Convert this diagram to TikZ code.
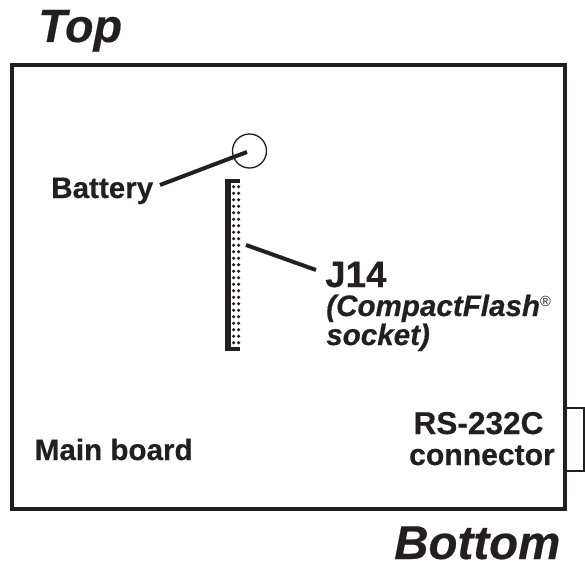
\documentclass[tikz,border=0pt]{standalone}
\usepackage{fontspec}
\setmainfont{Liberation Sans}[BoldFeatures={FakeBold=0.4},BoldItalicFeatures={FakeBold=0.4}]
\usetikzlibrary{arrows.meta,positioning,calc}
\definecolor{inkblack}{RGB}{35,31,32}
\tikzset{
  lbl/.style={inner sep=0pt,anchor=base west,text=inkblack,font=\fontsize{22.2}{24}\selectfont\bfseries},
  sublbl/.style={lbl,font=\fontsize{22.2}{24}\selectfont\bfseries\itshape},
  caption/.style={inner sep=0pt,anchor=base west,text=inkblack,font=\fontsize{35}{38}\selectfont\bfseries\itshape},
  leader/.style={line width=3pt,inkblack}
}
\begin{document}
\begin{tikzpicture}[x=0.75pt,y=-0.75pt]
  \useasboundingbox (0,0) rectangle (585,563);
  \node[caption] (top) at (38,42) {Top};
  \node[caption,font=\fontsize{35.6}{38}\selectfont\bfseries\itshape] (bottom) at (394,559) {Bottom};
  % connector sits behind the board outline
  \node[draw=inkblack,line width=1.2pt,inner sep=0pt,outer sep=0pt,
        minimum width=15pt,minimum height=47pt] (conn) at (574,439.5) {};
  \node[draw=inkblack,fill=white,line width=3pt,inner sep=0pt,outer sep=0pt,
        minimum width=415pt,minimum height=333.4pt] (board) at (288.5,287.2) {};
  \node[circle,draw=inkblack,line width=1pt,inner sep=0pt,outer sep=0pt,minimum size=25.5pt] (batt) at (249.5,151) {};
  \node[lbl] (battlbl) at (51,198) {Battery};
  \node[lbl] (mainlbl) at (34.5,460) {Main board};
  \node[lbl,anchor=base,font=\fontsize{23.7}{26}\selectfont\bfseries] (rslbl) at (478.5,434) {RS-232C};
  \node[lbl,anchor=base,font=\fontsize{22.6}{26}\selectfont\bfseries] (connlbl) at (482,465) {connector};
  \node[lbl,font=\fontsize{27.5}{30}\selectfont\bfseries] (jlbl) at (325,287) {J14};
  \node[sublbl] (cflbl) at (326,316) {(CompactFlash\raisebox{7pt}{\fontsize{11}{11}\selectfont\normalfont ®}};
  \node[sublbl] (sockl) at (326,345) {socket)};
  % socket bracket and pins
  \fill[inkblack] (225,179) rectangle (240,183);
  \fill[inkblack] (225,179) rectangle (230.5,350.5);
  \fill[inkblack] (225,346.7) rectangle (240,350.5);
  \foreach \row in {0,...,24}{
    \fill[inkblack] ({233.6},{186.7+6.5*\row}) circle (1.7);
    \fill[inkblack] ({238.6},{186.7+6.5*\row}) circle (1.7);
  }
  \coordinate (battend) at (247,152);
  \coordinate (sockend) at (246,245);
  \draw[leader] (160,185) -- (battend);
  \draw[leader] (sockend) -- (316,270);
\end{tikzpicture}
\end{document}
